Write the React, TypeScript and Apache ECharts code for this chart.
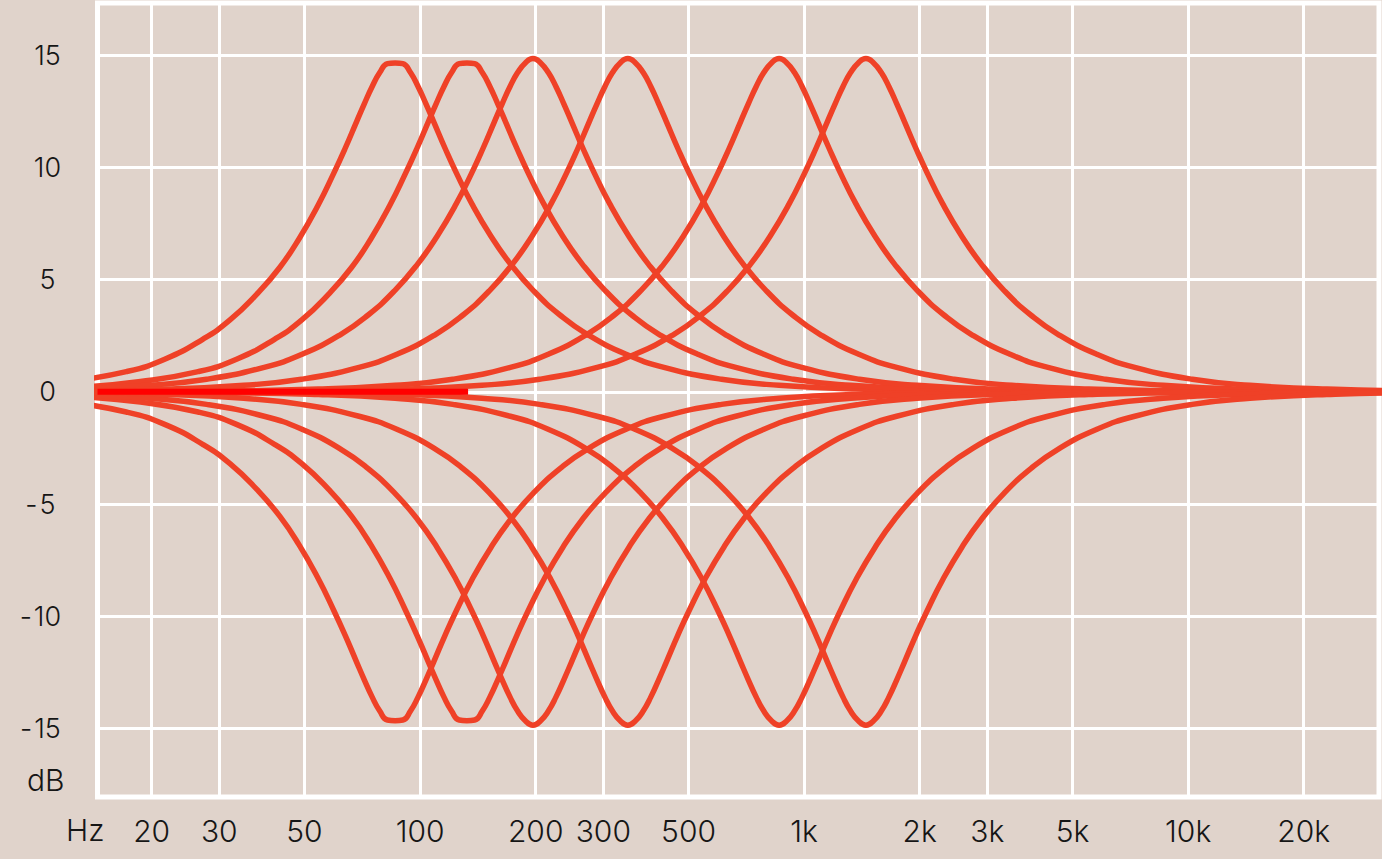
import { useEffect, useRef } from "react";
import * as echarts from "echarts";

// Frequency ticks (Hz) and their labels
const tickHz = [20, 30, 50, 100, 200, 300, 500, 1000, 2000, 3000, 5000, 10000, 20000];
const tickLabels = ["20", "30", "50", "100", "200", "300", "500", "1k", "2k", "3k", "5k", "10k", "20k"];
const dbTicks = [-15, -10, -5, 0, 5, 10, 15];

// Axis extents: log10(Hz) and dB
const xMinLog = 1.16;
const xMaxLog = 4.497;
const yMinDb = -18.05;
const yMaxDb = 17.32;

// Point positions (log10 of Hz) for each of the six bands
const band1X = [-0.665, 0.435, 0.735, 0.935, 1.085, 1.235, 1.335, 1.435, 1.505, 1.575, 1.635, 1.685, 1.735, 1.775, 1.805, 1.835, 1.855, 1.875, 1.895, 1.915, 1.935, 1.955, 1.975, 1.995, 2.015, 2.035, 2.065, 2.095, 2.135, 2.185, 2.235, 2.295, 2.365, 2.435, 2.535, 2.635, 2.785, 2.935, 3.135, 3.435, 4.535];
const band2X = [-0.478, 0.622, 0.922, 1.122, 1.272, 1.422, 1.522, 1.622, 1.692, 1.762, 1.822, 1.872, 1.922, 1.962, 1.992, 2.022, 2.042, 2.062, 2.082, 2.102, 2.122, 2.142, 2.162, 2.182, 2.202, 2.222, 2.252, 2.282, 2.322, 2.372, 2.422, 2.482, 2.552, 2.622, 2.722, 2.822, 2.972, 3.122, 3.322, 3.622, 4.722];
const band3X = [-0.306, 0.794, 1.094, 1.294, 1.444, 1.594, 1.694, 1.794, 1.864, 1.934, 1.994, 2.044, 2.094, 2.134, 2.164, 2.194, 2.214, 2.234, 2.254, 2.274, 2.294, 2.314, 2.334, 2.354, 2.374, 2.394, 2.424, 2.454, 2.494, 2.544, 2.594, 2.654, 2.724, 2.794, 2.894, 2.994, 3.144, 3.294, 3.494, 3.794, 4.894];
const band4X = [-0.059, 1.041, 1.341, 1.541, 1.691, 1.841, 1.941, 2.041, 2.111, 2.181, 2.241, 2.291, 2.341, 2.381, 2.411, 2.441, 2.461, 2.481, 2.501, 2.521, 2.541, 2.561, 2.581, 2.601, 2.621, 2.641, 2.671, 2.701, 2.741, 2.791, 2.841, 2.901, 2.971, 3.041, 3.141, 3.241, 3.391, 3.541, 3.741, 4.041, 5.141];
const band5X = [0.335, 1.435, 1.735, 1.935, 2.085, 2.235, 2.335, 2.435, 2.505, 2.575, 2.635, 2.685, 2.735, 2.775, 2.805, 2.835, 2.855, 2.875, 2.895, 2.915, 2.935, 2.955, 2.975, 2.995, 3.015, 3.035, 3.065, 3.095, 3.135, 3.185, 3.235, 3.295, 3.365, 3.435, 3.535, 3.635, 3.785, 3.935, 4.135, 4.435, 5.535];
const band6X = [0.561, 1.661, 1.961, 2.161, 2.311, 2.461, 2.561, 2.661, 2.731, 2.801, 2.861, 2.911, 2.961, 3.001, 3.031, 3.061, 3.081, 3.101, 3.121, 3.141, 3.161, 3.181, 3.201, 3.221, 3.241, 3.261, 3.291, 3.321, 3.361, 3.411, 3.461, 3.521, 3.591, 3.661, 3.761, 3.861, 4.011, 4.161, 4.361, 4.661, 5.761];

// Gains (dB) read along each bell
const boostGain = [0, 0.03, 0.12, 0.29, 0.56, 1.09, 1.68, 2.56, 3.41, 4.51, 5.7, 6.92, 8.37, 9.73, 10.85, 12.05, 12.84, 13.59, 14.22, 14.65, 14.85, 14.65, 14.22, 13.59, 12.84, 12.05, 10.85, 9.73, 8.37, 6.92, 5.7, 4.51, 3.41, 2.56, 1.68, 1.09, 0.56, 0.29, 0.12, 0.03, 0];
const boostGainFlat = [0, 0.02, 0.08, 0.22, 0.46, 0.9, 1.45, 2.35, 3.2, 4.35, 5.55, 6.82, 8.33, 9.73, 10.85, 12.05, 12.84, 13.59, 14.22, 14.62, 14.65, 14.62, 14.22, 13.59, 12.84, 12.05, 10.85, 9.73, 8.37, 6.92, 5.7, 4.51, 3.41, 2.56, 1.68, 1.09, 0.56, 0.29, 0.12, 0.03, 0];
const cutGain = [0, -0.03, -0.12, -0.29, -0.56, -1.09, -1.68, -2.56, -3.41, -4.51, -5.7, -6.92, -8.37, -9.73, -10.85, -12.05, -12.84, -13.59, -14.22, -14.65, -14.85, -14.65, -14.22, -13.59, -12.84, -12.05, -10.85, -9.73, -8.37, -6.92, -5.7, -4.51, -3.41, -2.56, -1.68, -1.09, -0.56, -0.29, -0.12, -0.03, 0];
const cutGainFlat = [0, -0.02, -0.08, -0.22, -0.46, -0.9, -1.45, -2.35, -3.2, -4.35, -5.55, -6.82, -8.33, -9.73, -10.85, -12.05, -12.84, -13.59, -14.22, -14.62, -14.65, -14.62, -14.22, -13.59, -12.84, -12.05, -10.85, -9.73, -8.37, -6.92, -5.7, -4.51, -3.41, -2.56, -1.68, -1.09, -0.56, -0.29, -0.12, -0.03, 0];

// Bright red flat segment on the 0 dB line
const flatSegmentX = [1.16, 2.125];
const flatSegmentY = [0, 0];

const BG = "#e0d3cb";
const CURVE = "#ef4127";
const TEXT = "#161616";
const FONT = "Inter, 'Noto Sans', sans-serif";

function zip(xs: number[], ys: number[]) {
  return xs.map((x, i) => [x, ys[i]]);
}

export default function App() {
  const ref = useRef<HTMLDivElement>(null);

  useEffect(() => {
    if (!ref.current) return;
    const chart = echarts.init(ref.current, null, { renderer: "svg" });

    const tickLog = tickHz.map((f) => Math.log10(f));
    const labelFor = (v: number) => {
      for (let i = 0; i < tickLog.length; i++) {
        if (Math.abs(tickLog[i] - v) < 1e-6) return tickLabels[i];
      }
      return "";
    };

    const bands: [number[], number[]][] = [
      [band1X, boostGainFlat],
      [band2X, boostGainFlat],
      [band3X, boostGain],
      [band4X, boostGain],
      [band5X, boostGain],
      [band6X, boostGain],
      [band1X, cutGainFlat],
      [band2X, cutGainFlat],
      [band3X, cutGain],
      [band4X, cutGain],
      [band5X, cutGain],
      [band6X, cutGain],
    ];

    const curveSeries = bands.map(([xs, ys], i) => ({
      type: "line" as const,
      name: "band" + i,
      data: zip(xs, ys),
      smooth: 0.5,
      symbol: "none",
      clip: true,
      silent: true,
      lineStyle: { color: CURVE, width: 5.5 },
      z: 3,
    }));

    const yFont = { fontSize: 27, fontFamily: FONT, fontWeight: 300 };

    chart.setOption({
      animation: false,
      backgroundColor: BG,
      textStyle: { fontFamily: FONT },
      grid: {
        left: 97.5,
        right: 3,
        top: 3,
        bottom: 62,
        show: true,
        borderColor: "#ffffff",
        borderWidth: 5,
        backgroundColor: BG,
        containLabel: false,
      },
      xAxis: {
        type: "value",
        min: xMinLog,
        max: xMaxLog,
        axisLine: { show: false },
        axisTick: { show: false, customValues: tickLog },
        axisLabel: {
          customValues: tickLog,
          formatter: (v: number) => labelFor(v),
          color: TEXT,
          fontSize: 30,
          fontWeight: 300,
          fontFamily: FONT,
          verticalAlign: "middle",
          margin: 34,
        },
        splitLine: { show: true, lineStyle: { color: "#ffffff", width: 3 } },
      },
      yAxis: {
        type: "value",
        min: yMinDb,
        max: yMaxDb,
        axisLine: { show: false },
        axisTick: { show: false, customValues: dbTicks },
        axisLabel: {
          customValues: dbTicks,
          formatter: (v: number) =>
            v < 0 ? `{m|-}{n|${Math.abs(v)}}{h|-}` : `{n|${v}}`,
          rich: {
            n: { ...yFont, color: TEXT },
            m: { ...yFont, color: TEXT, padding: [0, 2, 0, 0] },
            h: { ...yFont, color: "rgba(0,0,0,0)", padding: [0, 0, 0, 2] },
          },
          color: TEXT,
          ...yFont,
          align: "center",
          margin: 50,
        },
        splitLine: { show: true, lineStyle: { color: "#ffffff", width: 3 } },
      },
      graphic: [
        {
          type: "text",
          left: 27,
          top: 765,
          style: { text: "dB", fontSize: 30, fontWeight: 300, fontFamily: FONT, fill: TEXT },
        },
        {
          type: "text",
          left: 66,
          top: 815,
          style: { text: "Hz", fontSize: 30, fontWeight: 300, fontFamily: FONT, fill: TEXT },
        },
      ],
      series: [
        ...curveSeries,
        {
          type: "line",
          name: "flat",
          data: zip(flatSegmentX, flatSegmentY),
          symbol: "none",
          silent: true,
          lineStyle: { color: "#ff0000", width: 6 },
          z: 5,
        },
      ],
    });

    return () => chart.dispose();
  }, []);

  return (
    <div
      ref={ref}
      style={{ position: "absolute", left: 0, top: 0, width: 1382, height: 859 }}
    />
  );
}
